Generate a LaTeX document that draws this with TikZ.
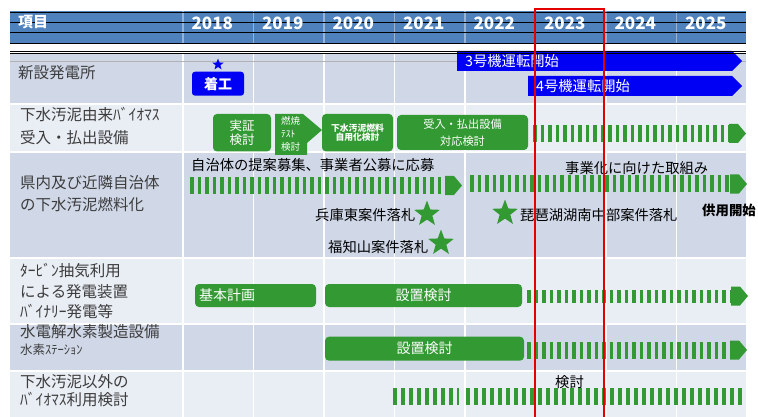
\documentclass[tikz,border=0pt]{standalone}
\usepackage{fontspec}
\setmainfont{Noto Sans CJK JP}
\usetikzlibrary{shapes.geometric,calc}
\definecolor{hdr}{RGB}{79,129,189}
\definecolor{hdrline}{RGB}{150,180,215}
\definecolor{rowA}{RGB}{208,216,232}
\definecolor{rowB}{RGB}{233,237,244}
\definecolor{grn}{RGB}{51,153,51}
\definecolor{bblue}{RGB}{0,0,245}
\definecolor{lab}{RGB}{60,60,60}
\newcommand{\fsz}[2]{\fontsize{#1}{#2}\selectfont}
\begin{document}
\begin{tikzpicture}[x=1pt,y=-1pt,
  lbl/.style={anchor=west, inner sep=0pt, text=lab, font=\fsz{15.5}{18}},
  yr/.style={text=white, inner sep=0pt, font=\fsz{17}{19}\bfseries},
  gbox/.style={fill=grn, rounded corners=4pt, text=white, inner sep=0pt, align=center},
  note/.style={anchor=west, inner sep=0pt, text=black, font=\fsz{14.3}{16}},
  wnote/.style={anchor=west, inner sep=0pt, text=white, font=\fsz{14.3}{16}},
  dbar/.style={draw=grn, line width=#1, dash pattern=on 3.5pt off 4pt},
  gstar/.style={star, star points=5, star point ratio=2.4, fill=grn, inner sep=0pt, minimum size=27pt},
  bartip/.pic={\fill[grn] (0,-9.5) -- (9,-9.5) -- (17,0) -- (9,9.5) -- (0,9.5) -- cycle;}
]
\useasboundingbox (0,0) rectangle (758,417);
\fill[white] (0,0) rectangle (758,417);

% header
\fill[hdr] (10,11) rectangle (746,44.3);
\foreach \k in {0,...,7} \draw[hdrline, line width=1.2pt] ({183+70.5*\k},11) -- ({183+70.5*\k},44.3);
\foreach \yy in {12.7,22.7,32.7,43.3} \draw[black, line width=0.8pt] (10,\yy) -- (746,\yy);
\node[yr, font=\fsz{15}{17}\bfseries, anchor=west] (item) at (18,22) {項目};
\foreach \yr [count=\i from 0] in {2018,...,2025}
  \node[yr] (y\yr) at ({183+70.5*\i+35.25-6},23) {\yr};

% rows
\fill[rowA] (10,54) rectangle (746,104);
\fill[rowB] (10,104) rectangle (746,152);
\fill[rowA] (10,152) rectangle (746,257.5);
\fill[rowB] (10,257.5) rectangle (746,323.5);
\fill[rowA] (10,323.5) rectangle (746,371);
\fill[rowB] (10,371) rectangle (746,417);
\foreach \yy in {104,152,257.5,323.5,371} \draw[white, line width=2pt] (10,\yy) -- (746,\yy);
\foreach \k in {0,...,7} \draw[white, line width=1.3pt] ({183+70.5*\k},54) -- ({183+70.5*\k},417);
\draw[gray!60, line width=0.8pt] (10,61) -- (746,61);

% left labels
\node[lbl] (r1) at (18,73) {新設発電所};
\node[lbl] (r2a) at (20,115) {下水汚泥由来ﾊﾞｲｵﾏｽ};
\node[lbl] (r2b) at (20,137.5) {受入・払出設備};
\node[lbl] (r3a) at (20,183) {県内及び近隣自治体};
\node[lbl] (r3b) at (20,205) {の下水汚泥燃料化};
\node[lbl] (r4a) at (20,271) {ﾀｰﾋﾞﾝ抽気利用};
\node[lbl] (r4b) at (20,291.7) {による発電装置};
\node[lbl] (r4c) at (20,311.7) {ﾊﾞｲﾅﾘｰ発電等};
\node[lbl] (r5a) at (20,331.7) {水電解水素製造設備};
\node[lbl, font=\fsz{12.5}{14}] (r5b) at (20,350) {水素ｽﾃｰｼｮﾝ};
\node[lbl] (r6a) at (20,381.7) {下水汚泥以外の};
\node[lbl] (r6b) at (20,400) {ﾊﾞｲｵﾏｽ利用検討};

% row 1
\node[star, star points=5, star point ratio=2.4, fill=bblue, inner sep=0pt, minimum size=12pt] (bstar) at (218,64.5) {};
\node[fill=bblue, rounded corners=3pt, minimum width=52pt, minimum height=24pt, inner sep=0pt, text=white, font=\fsz{14}{16}\bfseries] (chakko) at (218,83.7) {着工};
\fill[bblue] (457,51) -- (732,51) -- (742,61) -- (732,71) -- (457,71) -- cycle;
\node[wnote] (u3) at (465,61) {3号機運転開始};
\fill[bblue] (528,76) -- (732,76) -- (742,86) -- (732,96) -- (528,96) -- cycle;
\node[wnote] (u4) at (536,86) {4号機運転開始};
\draw[black, line width=0.8pt] (10,51) -- (746,51);
\draw[black, line width=0.8pt] (10,53.5) -- (746,53.5);

% row 2
\node[gbox, minimum width=58pt, minimum height=37.5pt, font=\fsz{12.5}{14}] (jissho) at (242,132.7) {実証\\検討};
\fill[grn] (275,114) -- (303,114) -- (322,130) -- (307,143) -- (307,155) -- (275,155) -- cycle;
\node[anchor=north west, inner sep=0pt, text=white, align=left, font=\fsz{9.5}{13}] (nensho) at (281,116) {燃焼\\ﾃｽﾄ\\検討};
\node[gbox, minimum width=71pt, minimum height=37.5pt, font=\fsz{8.8}{9.7}\bfseries] (jiyo) at (357.5,132.7) {下水汚泥燃料\\自用化検討};
\node[gbox, minimum width=131pt, minimum height=35pt, font=\fsz{11.2}{16.7}] (ukeire) at (462.5,132.5) {受入・払出設備\\対応検討};
\coordinate (d2s) at (533,133.5);
\coordinate (d2e) at (729,133.5);
\draw[dbar=16.5pt] (d2s) -- (d2e);
\pic at (d2e) {bartip};

% row 3
\node[note] (t3a) at (191,165) {自治体の提案募集、事業者公募に応募};
\coordinate (d3s) at (190,185.5);
\coordinate (d3e) at (445,185.5);
\draw[dbar=17pt] (d3s) -- (d3e);
\pic at (d3e) {bartip};
\node[note] (t3b) at (565,168) {事業化に向けた取組み};
\coordinate (d3t) at (470,184);
\coordinate (d3u) at (730,184);
\draw[dbar=17pt] (d3t) -- (d3u);
\pic at (d3u) {bartip};
\node[note] (hyogo) at (315,215) {兵庫東案件落札};
\node[gstar] (s1) at (427,214) {};
\node[note] (fuku) at (328,246.7) {福知山案件落札};
\node[gstar] (s2) at (441,243) {};
\node[gstar] (s3) at (505,213) {};
\node[note] (biwa) at (520,215) {琵琶湖湖南中部案件落札};
\node[note, font=\fsz{13.4}{15}\bfseries] (kyoyo) at (702,210) {供用開始};

% row 4
\node[gbox, minimum width=121pt, minimum height=23pt, font=\fsz{14}{16}, text width=113pt, align=left] (kihon) at (255.5,295.5) {基本計画};
\node[gbox, minimum width=197pt, minimum height=23pt, font=\fsz{14}{16}] (secchi4) at (423.5,295.5) {設置検討};
\coordinate (d4s) at (527,296);
\coordinate (d4e) at (731,296);
\draw[dbar=13pt] (d4s) -- (d4e);
\pic at (d4e) {bartip};

% row 5
\node[gbox, minimum width=199pt, minimum height=24pt, font=\fsz{14}{16}] (secchi5) at (424.5,348.7) {設置検討};
\coordinate (d5s) at (527,350);
\coordinate (d5e) at (730,350);
\draw[dbar=17pt] (d5s) -- (d5e);
\pic at (d5e) {bartip};

% row 6
\node[note] (kento) at (555,381.7) {検討};
\coordinate (d6s) at (393,396.5);
\coordinate (d6m) at (459,396.5);
\coordinate (d6n) at (466,396.5);
\coordinate (d6e) at (746,396.5);
\draw[draw=grn, line width=17pt, dash pattern=on 3.5pt off 4.5pt] (d6s) -- (d6m);
\draw[draw=grn, line width=17pt, dash pattern=on 3.5pt off 4.5pt] (d6n) -- (d6e);

% red frame
\draw[red!90!black, line width=2pt] (535,9.5) rectangle (604,420);
\end{tikzpicture}
\end{document}
